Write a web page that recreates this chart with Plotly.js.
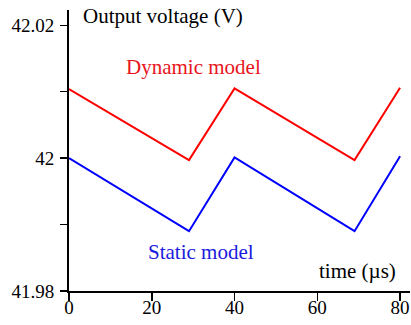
<!DOCTYPE html>
<html>
<head>
<meta charset="utf-8">
<script src="https://cdn.plot.ly/plotly-3.0.1.min.js"></script>
<style>html,body{margin:0;padding:0;background:#fff;}#chart{width:411px;height:325px;}</style>
</head>
<body>
<div id="chart"></div>
<script>
const time = [0, 29, 40, 69, 80];
const dynamicModel = [42.0104, 41.9997, 42.0105, 41.9997, 42.0106];
const staticModel = [42.0000, 41.9890, 42.0001, 41.9890, 42.0003];
const xTickVals = [0, 20, 40, 60, 80];
const xTickText = ['0', '20', '40', '60', '80'];
const yTickVals = [41.98, 41.99, 42, 42.01, 42.02];
const yTickText = ['41.98', '', '42', '', '42.02'];

const serif = 'Liberation Serif';

const traces = [
  {x: time, y: dynamicModel, mode: 'lines', line: {color: '#ff0000', width: 2}, name: 'Dynamic model'},
  {x: time, y: staticModel, mode: 'lines', line: {color: '#0000ff', width: 2}, name: 'Static model'}
];

const layout = {
  width: 411, height: 325,
  margin: {l: 69, r: 1, t: 10, b: 34},
  paper_bgcolor: '#fff', plot_bgcolor: '#fff',
  showlegend: false,
  font: {family: serif, size: 18, color: '#000'},
  xaxis: {
    range: [0, 82.4], showgrid: false, zeroline: false,
    showline: true, linecolor: '#000', linewidth: 2,
    ticks: 'outside', ticklen: 8, tickwidth: 1.5, tickcolor: '#000',
    tickvals: xTickVals, ticktext: xTickText, ticklabelstandoff: -10,
    tickfont: {family: serif, size: 19, color: '#000'}
  },
  yaxis: {
    range: [41.98, 42.0223], showgrid: false, zeroline: false,
    showline: true, linecolor: '#000', linewidth: 2,
    ticks: 'outside', ticklen: 7, tickwidth: 1.5, tickcolor: '#000',
    tickvals: yTickVals, ticktext: yTickText, ticklabelstandoff: 2,
    tickfont: {family: serif, size: 19, color: '#000'}
  },
  annotations: [
    {text: 'Output voltage (V)', x: 2.9, y: 42.0214, xref: 'x', yref: 'y', xanchor: 'left', yanchor: 'middle', showarrow: false, font: {family: serif, size: 21, color: '#000'}},
    {text: 'Dynamic model', x: 30.2, y: 42.0137, xref: 'x', yref: 'y', xanchor: 'center', yanchor: 'middle', showarrow: false, font: {family: serif, size: 21, color: '#e8141b'}},
    {text: 'Static model', x: 32.0, y: 41.9859, xref: 'x', yref: 'y', xanchor: 'center', yanchor: 'middle', showarrow: false, font: {family: serif, size: 21, color: '#1a1ae0'}},
    {text: 'time (\u00b5s)', x: 79.5, y: 41.983, xref: 'x', yref: 'y', xanchor: 'right', yanchor: 'middle', showarrow: false, font: {family: serif, size: 21, color: '#000'}}
  ]
};

Plotly.newPlot('chart', traces, layout, {displayModeBar: false, staticPlot: true});
</script>
</body>
</html>
